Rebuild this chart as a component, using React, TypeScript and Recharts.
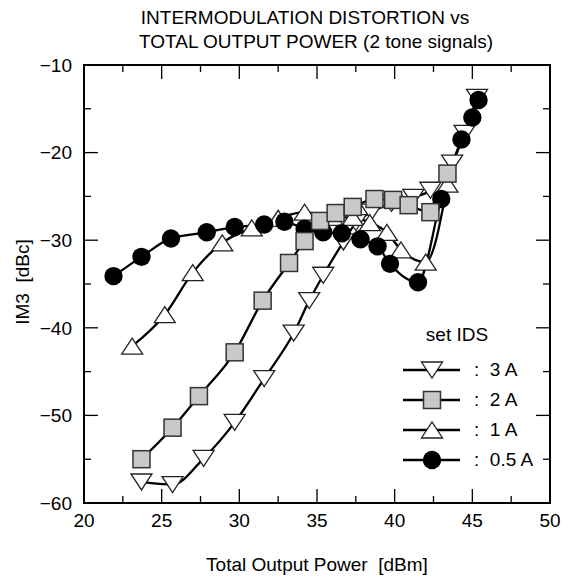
import React from "react";
import { LineChart, Line, XAxis, YAxis, ReferenceArea } from "recharts";

// axis ticks (labels only on the major ones)
const X_TICKS = [20, 22.5, 25, 27.5, 30, 32.5, 35, 37.5, 40, 42.5, 45, 47.5, 50];
const Y_TICKS = [-60, -55, -50, -45, -40, -35, -30, -25, -20, -15, -10];

// IDS = 3 A
const POWER_3A = [23.7, 25.7, 27.7, 29.7, 31.6, 33.5, 34.5, 35.4, 36.7, 37.5, 38.5, 39.8, 41.2, 42.3, 43.7, 44.5, 45.3];
const IM3_3A = [-57.6, -57.9, -54.9, -50.8, -45.8, -40.6, -36.9, -34.0, -30.2, -28.0, -26.8, -25.8, -25.1, -24.3, -21.2, -17.8, -13.7];

// IDS = 2 A
const POWER_2A = [23.7, 25.7, 27.4, 29.7, 31.5, 33.2, 34.2, 35.2, 36.2, 37.3, 38.7, 39.9, 40.9, 42.3, 43.4];
const IM3_2A = [-55.0, -51.4, -47.8, -42.8, -36.9, -32.6, -30.1, -27.8, -26.9, -26.2, -25.3, -25.4, -26.0, -26.8, -22.4];

// IDS = 1 A
const POWER_1A = [23.1, 25.2, 27.0, 28.9, 30.8, 32.5, 34.2, 36.0, 37.3, 38.4, 39.5, 40.4, 42.0, 43.4];
const IM3_1A = [-42.1, -38.5, -33.7, -30.3, -28.6, -27.5, -26.8, -27.4, -27.4, -28.0, -29.1, -31.1, -32.5, -23.6];

// IDS = 0.5 A
const POWER_05A = [21.9, 23.7, 25.6, 27.9, 29.7, 31.6, 32.9, 34.2, 35.4, 36.6, 37.8, 38.9, 39.7, 41.5, 43.0, 44.3, 45.0, 45.4];
const IM3_05A = [-34.1, -31.9, -29.8, -29.1, -28.5, -28.2, -27.9, -28.7, -29.1, -29.2, -29.9, -30.7, -32.7, -34.8, -25.3, -18.5, -16.0, -14.0];

type Shape = "down" | "square" | "up" | "circle";

const zip = (xs: number[], ys: number[]) => xs.map((x, i) => ({ x, y: ys[i] }));

const SERIES: { name: string; shape: Shape; data: { x: number; y: number }[] }[] = [
  { name: "3 A", shape: "down", data: zip(POWER_3A, IM3_3A) },
  { name: "2 A", shape: "square", data: zip(POWER_2A, IM3_2A) },
  { name: "1 A", shape: "up", data: zip(POWER_1A, IM3_1A) },
  { name: "0.5 A", shape: "circle", data: zip(POWER_05A, IM3_05A) },
];
// drawing order (squares end up on top)
const DRAW_ORDER = ["3 A", "1 A", "0.5 A", "2 A"];

const W = 572;
const H = 580;
const PLOT = { left: 84, right: 550, top: 65, bottom: 503 };
const FONT = '"Liberation Sans", Arial, Helvetica, sans-serif';
const FS = 19;

const fmt = (v: number) => (v < 0 ? `\u2212${Math.abs(v)}` : `${v}`);

function Marker({ shape, cx, cy }: { shape: Shape; cx: number; cy: number }) {
  if (cx == null || cy == null) return null;
  switch (shape) {
    case "circle":
      return <circle cx={cx} cy={cy} r={9.2} fill="#000" />;
    case "square":
      return <rect x={cx - 8.5} y={cy - 8.5} width={17} height={17} fill="#c8c8c8" stroke="#333" strokeWidth={1.5} />;
    case "up":
      return (
        <polygon
          points={`${cx - 10.5},${cy + 8} ${cx + 10.5},${cy + 8} ${cx},${cy - 8}`}
          fill="#fff"
          stroke="#222"
          strokeWidth={1.3}
        />
      );
    default:
      return (
        <polygon
          points={`${cx - 10.5},${cy - 8} ${cx + 10.5},${cy - 8} ${cx},${cy + 8}`}
          fill="#fff"
          stroke="#222"
          strokeWidth={1.3}
        />
      );
  }
}

function XTick(props: any) {
  const { x, y, payload } = props;
  const v = payload.value;
  const major = v % 5 === 0;
  const len = major ? 14 : 7;
  return (
    <g>
      <line x1={x} y1={PLOT.bottom} x2={x} y2={PLOT.bottom - len} stroke="#000" strokeWidth={1.3} />
      <line x1={x} y1={PLOT.top} x2={x} y2={PLOT.top + len} stroke="#000" strokeWidth={1.3} />
      {major && (
        <text x={x} y={y} dy="0.71em" textAnchor="middle" fontSize={FS} fontFamily={FONT} fill="#000">
          {fmt(v)}
        </text>
      )}
    </g>
  );
}

function YTick(props: any) {
  const { x, y, payload } = props;
  const v = payload.value;
  const major = v % 10 === 0;
  const len = major ? 14 : 7;
  return (
    <g>
      <line x1={PLOT.left} y1={y} x2={PLOT.left + len} y2={y} stroke="#000" strokeWidth={1.3} />
      <line x1={PLOT.right} y1={y} x2={PLOT.right - len} y2={y} stroke="#000" strokeWidth={1.3} />
      {major && (
        <text x={x} y={y} dy="0.355em" textAnchor="end" fontSize={FS} fontFamily={FONT} fill="#000">
          {fmt(v)}
        </text>
      )}
    </g>
  );
}

export default function App() {
  const legendRows = [370, 400, 430, 460];
  return (
    <div style={{ position: "absolute", left: 0, top: 0, width: W, height: H, background: "#fff" }}>
      <LineChart
        width={W}
        height={H}
        margin={{ top: PLOT.top, right: W - PLOT.right, bottom: H - PLOT.bottom - 40, left: PLOT.left - 60 }}
      >
        <XAxis
          type="number"
          dataKey="x"
          domain={[20, 50]}
          ticks={X_TICKS}
          interval={0}
          allowDataOverflow
          axisLine={false}
          tickLine={false}
          tickSize={0}
          tickMargin={11}
          height={40}
          tick={XTick}
        />
        <YAxis
          type="number"
          dataKey="y"
          domain={[-60, -10]}
          ticks={Y_TICKS}
          interval={0}
          allowDataOverflow
          axisLine={false}
          tickLine={false}
          tickSize={0}
          tickMargin={12}
          width={60}
          tick={YTick}
        />
        <ReferenceArea x1={20} x2={50} y1={-60} y2={-10} fill="none" fillOpacity={0} stroke="#000" strokeWidth={2} />
        {DRAW_ORDER.map((name) => {
          const s = SERIES.find((d) => d.name === name)!;
          return (
            <Line
              key={s.name}
              data={s.data}
              dataKey="y"
              type="monotone"
              stroke="#000"
              strokeWidth={2.3}
              isAnimationActive={false}
              activeDot={false}
              dot={(p: any) => <Marker key={`${s.shape}-${p.index}`} shape={s.shape} cx={p.cx} cy={p.cy} />}
            />
          );
        })}
      </LineChart>
      <svg
        width={W}
        height={H}
        style={{ position: "absolute", left: 0, top: 0, pointerEvents: "none" }}
        fontFamily={FONT}
      >
        <text x={305} y={24} textAnchor="middle" fontSize={FS}>INTERMODULATION DISTORTION vs</text>
        <text x={316} y={48} textAnchor="middle" fontSize={FS}>TOTAL OUTPUT POWER (2 tone signals)</text>
        <text x={317} y={571} textAnchor="middle" fontSize={FS} xmlSpace="preserve">Total Output Power  [dBm]</text>
        <text
          x={22}
          y={282}
          textAnchor="middle"
          dominantBaseline="central"
          fontSize={FS}
          transform="rotate(-90 22 282)"
          xmlSpace="preserve"
        >
          IM3  [dBc]
        </text>
        <text x={457} y={341} textAnchor="middle" fontSize={FS}>set IDS</text>
        {SERIES.map((s, i) => {
          const y = legendRows[i];
          return (
            <g key={s.name}>
              <line x1={403} y1={y} x2={460} y2={y} stroke="#000" strokeWidth={2.3} />
              <Marker shape={s.shape} cx={432} cy={y} />
              <text x={474} y={y + 6} fontSize={FS} xmlSpace="preserve">{`:  ${s.name}`}</text>
            </g>
          );
        })}
      </svg>
    </div>
  );
}
